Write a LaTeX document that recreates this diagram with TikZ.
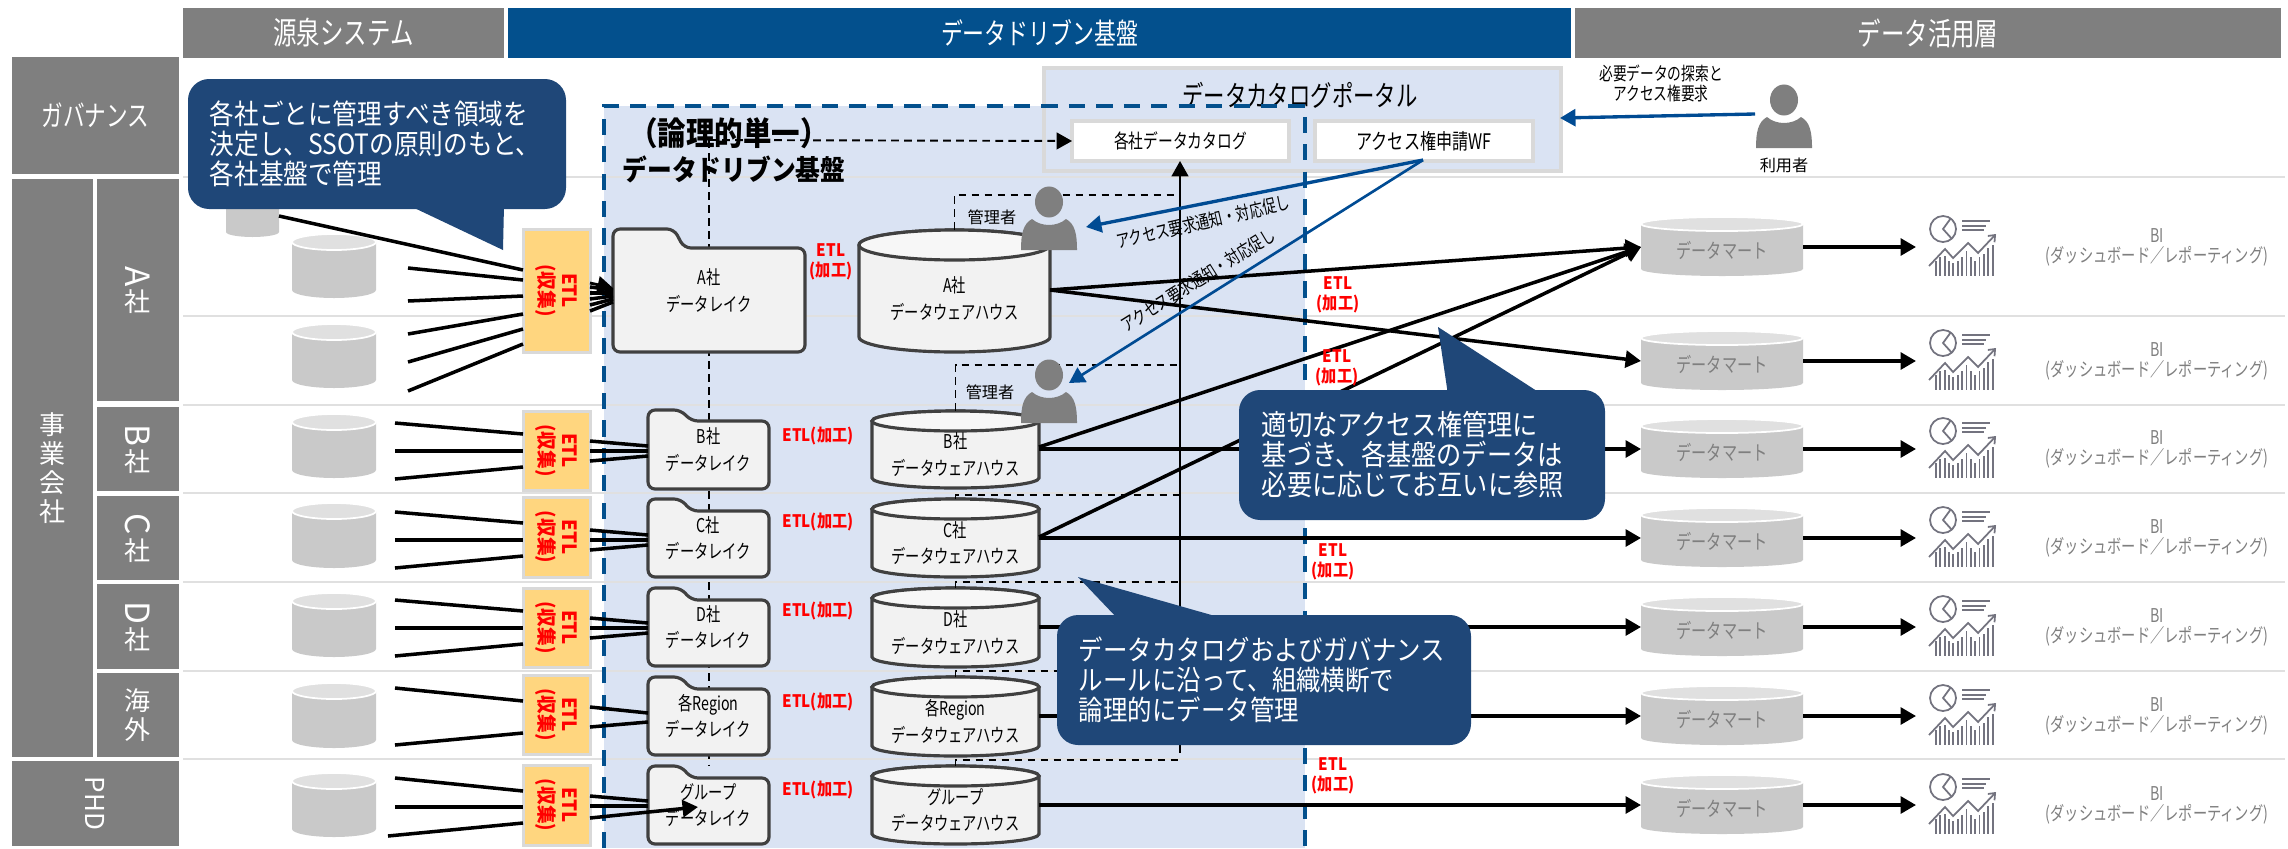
\documentclass[tikz,border=0pt]{standalone}
\usepackage{fontspec}
\setmainfont[FakeStretch=0.88]{Noto Sans CJK JP}
\newfontfamily\jpplain{Noto Sans CJK JP}
\newfontfamily\jpnarrow[FakeStretch=0.75]{Noto Sans CJK JP}
\newfontfamily\jpetl[FakeStretch=0.95]{Noto Sans CJK JP}
\usetikzlibrary{arrows.meta,positioning,shapes.geometric}
\newcommand{\fz}[2]{\fontsize{#1}{#2}\selectfont}
\definecolor{c_gray}{HTML}{7F7F7F}
\definecolor{c_blue}{HTML}{03508D}
\definecolor{c_note}{HTML}{1F4778}
\definecolor{c_zone}{HTML}{DAE3F3}
\definecolor{c_rule}{HTML}{E0E0E0}
\definecolor{c_frame}{HTML}{D9D9D9}
\definecolor{c_edge}{HTML}{404040}
\definecolor{c_flow}{HTML}{004B93}
\definecolor{c_icon}{HTML}{73737F}
\definecolor{c_etl}{HTML}{FFD67F}
\tikzset{
        boxnode/.style={inner sep=0pt,outer sep=0pt,align=center},
        % Header bars and side labels
        node_bar/.style={boxnode, fill=c_gray, text=white, font=\jpnarrow\fz{8.9}{10}},
        node_bar_blue/.style={node_bar, fill=c_blue, font=\jpnarrow\fz{8.3}{10}},
        node_side/.style={boxnode, fill=c_gray, text=white, font=\jpplain\fz{7.4}{8.2}},
        node_side_wide/.style={node_side, font=\jpnarrow\fz{8.2}{9}},
        % ETL boxes
        node_etl/.style={boxnode, fill=c_etl, draw=c_frame, line width=0.85pt},
        node_etl_text/.style={boxnode, rotate=-90, text=red, font=\jpetl\bfseries\fz{5.6}{6.6}},
        node_red/.style={boxnode, text=red, font=\bfseries\fz{4.9}{5.7}},
        % Portal
        node_portal/.style={boxnode, fill=c_zone, draw=c_frame, line width=0.95pt},
        node_white/.style={boxnode, fill=white, draw=c_frame, line width=0.95pt, font=\jpnarrow\fz{5.6}{6}},
        % Callouts
        node_note/.style={boxnode, align=left, fill=c_note, text=white, rounded corners=6pt, font=\fz{7.95}{8.5}},
        % Texts
        node_small/.style={boxnode, font=\jpnarrow\fz{5.4}{6}},
        node_bi/.style={boxnode, text=c_gray, font=\jpnarrow\fz{5.4}{5.7}},
        node_person/.style={boxnode, ellipse, fill=c_gray, minimum width=0.28cm, minimum height=0.31cm},
        node_hidden/.style={boxnode},
        % Cylinders
        wh_body/.style={draw=c_edge, fill=black!5, line width=0.9pt},
        wh_top/.style={draw=c_edge, fill=black!3, line width=0.9pt},
        wh_text/.style={node_small},
        src_body/.style={fill=black!21},
        src_top/.style={draw=white, fill=black!12, line width=0.5pt},
        src_text/.style={node_small, text=c_gray, font=\jpnarrow\fz{5.75}{6}},
        % Lines
        line_feed/.style={line width=1pt},
        line_flow/.style={line width=1pt, -{Triangle[length=4.4pt,width=4.8pt]}},
        line_blue/.style={draw=c_flow, -{Triangle[length=4.4pt,width=4.8pt]}},
        line_dash/.style={line width=0.55pt, dash pattern=on 2.2pt off 1.5pt},
        line_zone/.style={draw=c_blue, line width=1pt, dash pattern=on 4.6pt off 3.2pt},
        line_icon/.style={draw=c_icon, line width=0.5pt}
}
% box given by its corners, in pixels of the sheet
\newcommand{\placebox}[7]{%
    \pgfmathsetmacro{\bw}{(#5)-(#3)}\pgfmathsetmacro{\bh}{(#6)-(#4)}%
    \pgfmathsetmacro{\bx}{((#3)+(#5))/2}\pgfmathsetmacro{\by}{((#4)+(#6))/2}%
    \node[#1, minimum width=\bw*0.01cm, minimum height=\bh*0.01cm] (#2) at (\bx,\by) {#7};
}
% name, x1, y1, x2, y2, ry, kind, text
\newcommand{\dbcyl}[8]{%
    \pgfmathsetmacro{\crx}{((#4)-(#2))/2}\pgfmathsetmacro{\ccx}{((#2)+(#4))/2}%
    \pgfmathsetmacro{\cyt}{(#3)+(#6)}\pgfmathsetmacro{\cyb}{(#5)-(#6)}%
    \pgfmathsetmacro{\cym}{((#3)+(#5))/2+(#6)*0.5}%
    \path[#7_body] (#2,\cyt) -- (#2,\cyb)
        arc[start angle=180,end angle=360,x radius=\crx*0.01cm,y radius=#6*0.01cm]
        -- (#4,\cyt)
        arc[start angle=0,end angle=180,x radius=\crx*0.01cm,y radius=#6*0.01cm] -- cycle;
    \path[#7_top] (\ccx,\cyt) ellipse [x radius=\crx*0.01cm,y radius=#6*0.01cm];
    \placebox{node_hidden}{#1}{#2}{#3}{#4}{#5}{}
    \node[#7_text] (#1_text) at (\ccx,\cym) {#8};
}
% name, x1, y1, x2, y2, tab x, tab y, text
\newcommand{\lakefolder}[8]{%
    \draw[wh_body, line join=round, rounded corners=2pt] (#2,#5) -- (#2,#3) -- (#6-10,#3) -- (#6,#7) -- (#4,#7) -- (#4,#5) -- cycle;
    \placebox{node_small}{#1}{#2}{#3}{#4}{#5}{#8}
}
\newcommand{\personicon}[3]{%
    \begin{scope}[shift={(#2,#3)}]
        \node[node_person] (#1) at (0,0) {};
        \fill[c_gray] (-28,48) .. controls (-28,32) and (-26,22) .. (-17,17)
            .. controls (-8,25) and (8,25) .. (17,17)
            .. controls (26,22) and (28,32) .. (28,48) -- cycle;
    \end{scope}
}
\newcommand{\biicon}[1]{%
    \begin{scope}[shift={(0,#1)}]
        \draw[line_icon] (1943,-18) circle[radius=0.13cm];
        \draw[line_icon] (1951,-29) -- (1943,-18) -- (1952,-8);
        \foreach \ly/\lx in {-26/1990,-21/1986,-17/1984} \draw[line_icon,line width=0.6pt] (1962,\ly) -- (\lx,\ly);
        \draw[line_icon,-{Straight Barb[length=1.6pt,width=2.6pt]}] (1929,19) -- (1945,2) -- (1953,11) -- (1968,-4) -- (1978,6) -- (1996,-13);
        \foreach \i/\t in {0/14,1/10,2/9,3/14,4/16,5/14,6/10,7/4,8/10,9/14,10/10,11/7,12/1,13/-2}
            \draw[line_icon,line width=0.55pt] (1936+\i*4.35,\t) -- (1936+\i*4.35,29);
    \end{scope}
}
\newcommand{\sideletter}[1]{\rotatebox{-90}{\fz{9.5}{10}#1}}

\begin{document}
\begin{tikzpicture}[x=0.01cm,y=-0.01cm]
    \useasboundingbox (0,0) rectangle (2288,848);

    % logical zone
    \fill[c_zone] (604,106) rectangle (1305,848);
    \foreach \y in {177,316,405,493,582,671,759}
        \draw[c_rule,line width=0.6pt] (183,\y) -- (2285,\y);

    % headers
    \placebox{node_bar}{headSource}{183}{8}{504}{58}{源泉システム}
    \placebox{node_bar_blue}{headBase}{508}{8}{1571}{58}{データドリブン基盤}
    \placebox{node_bar}{headUse}{1575}{8}{2281}{58}{データ活用層}

    % side labels
    \placebox{node_side_wide}{sideGov}{12}{57}{179}{174}{ガバナンス}
    \placebox{node_side}{sideGroup}{12}{179}{93}{757}{事\\業\\会\\社}
    \placebox{node_side}{sideA}{97}{179}{179}{401}{\sideletter{A}\\社}
    \placebox{node_side}{sideB}{97}{407}{179}{491}{\sideletter{B}\\社}
    \placebox{node_side}{sideC}{97}{496}{179}{580}{\sideletter{C}\\社}
    \placebox{node_side}{sideD}{97}{584}{179}{669}{\sideletter{D}\\社}
    \placebox{node_side}{sideR}{97}{673}{179}{757}{海\\外}
    \placebox{node_side}{sidePHD}{12}{761}{179}{846}{\rotatebox{-90}{PHD}}

    % portal
    \placebox{node_portal}{portal}{1044}{68}{1561}{171}{}
    \node[boxnode,font=\jpnarrow\fz{8.1}{8}] (portalTitle) at (1300,95) {データカタログポータル};
    \placebox{node_white}{catalog}{1072}{121}{1289}{161}{各社データカタログ}
    \placebox{node_white,font=\jpnarrow\fz{6.1}{6}}{requestWF}{1315}{121}{1533}{161}{アクセス権申請WF}

    \draw[line_zone] (604,848) -- (604,106) -- (1305,106) -- (1305,848);

    % dashed catalog links
    \coordinate (busTop) at (709,140);
    \coordinate (busEnd) at (709,766);
    \draw[line_dash] (busTop) -- (busEnd);
    \draw[line_dash,-{Triangle[length=4.4pt,width=4.8pt]}] (busTop) -- (catalog.west);

    % source systems
    \dbcyl{srcA0}{226}{190}{279}{237}{5}{src}{}
    \foreach \r/\ya/\yb in {A1/234/298,A2/324/388,B/414/478,C/503/568,D/593/657,R/683/748,G/773/837}{
        \dbcyl{src\r}{292}{\ya}{376}{\yb}{8}{src}{}
    }

    % ETL collect
    \foreach \r/\ya/\yb in {A/229/352,B/411/490,C/497/577,D/588/667,R/675/754,G/765/845}{
        \placebox{node_etl}{etl\r}{523}{\ya}{590}{\yb}{}
        \node[node_etl_text] (etlText\r) at (etl\r.center) {ETL\\(収集)};
    }

    % data lakes
    \lakefolder{lakeA}{613}{229}{805}{352}{684}{248}{A社\\[1.5pt]データレイク}
    \lakefolder{lakeB}{648}{410}{769}{489}{691}{421}{B社\\[1.5pt]データレイク}
    \lakefolder{lakeC}{648}{499}{769}{577}{691}{511}{C社\\[1.5pt]データレイク}
    \lakefolder{lakeD}{648}{588}{769}{666}{691}{600}{D社\\[1.5pt]データレイク}
    \lakefolder{lakeR}{648}{677}{769}{755}{691}{689}{各Region\\[1.5pt]データレイク}
    \lakefolder{lakeG}{648}{766}{769}{844}{691}{778}{グループ\\[1.5pt]データレイク}

    % warehouses
    \dbcyl{whA}{859}{230}{1050}{352}{15}{wh}{A社\\[1.5pt]データウェアハウス}
    \dbcyl{whB}{872}{411}{1039}{488}{10}{wh}{B社\\[1.5pt]データウェアハウス}
    \dbcyl{whC}{872}{499}{1039}{577}{10}{wh}{C社\\[1.5pt]データウェアハウス}
    \dbcyl{whD}{872}{588}{1039}{667}{10}{wh}{D社\\[1.5pt]データウェアハウス}
    \dbcyl{whR}{872}{677}{1039}{756}{10}{wh}{各Region\\[1.5pt]データウェアハウス}
    \dbcyl{whG}{872}{766}{1039}{844}{10}{wh}{グループ\\[1.5pt]データウェアハウス}

    % marts and BI
    \foreach \r/\y in {1/247,2/361,3/449,4/538,5/627,6/716,7/805}{
        \dbcyl{mart\r}{1641}{\y-30}{1803}{\y+29}{7}{src}{データマート}
        \coordinate (icon\r) at (1916,\y);
        \draw[line_flow] (mart\r.east |- icon\r) -- (icon\r);
        \biicon{\y}
        \node[node_bi] (bi\r) at (2157,\y) {BI\\(ダッシュボード／レポーティング)};
    }

    % catalog bus
    \coordinate (busBottom) at (1180,753);
    \draw[line width=0.6pt,-{Triangle[length=4.4pt,width=4.8pt]}] (busBottom) -- (busBottom |- catalog.south);
    \foreach \r/\y in {A/195,B/365,C/495,D/582,R/671,G/760}
        \draw[line_dash] (wh\r.north) -- (wh\r.north |- 0,\y) -- (busBottom |- 0,\y);

    % source feeds
    \coordinate (outA) at (408,300);
    \draw[line_feed] (srcA0.east |- 0,216) -- (etlA.west |- 0,270);
    \foreach \a/\b in {268/280,301/296,334/314,362/329,391/344}
        \draw[line_feed] (outA |- 0,\a) -- (etlA.west |- 0,\b);
    \foreach \a/\b in {287/290,293/293,299/296,305/299,311/302}
        \draw[line_feed] (etlA.east |- 0,\a) -- (lakeA.west |- 0,\b);
    \draw[line_flow,line width=0.8pt] (etlA.east |- 0,283) -- (lakeA.west |- 0,288);
    \foreach \r/\c in {B/451,C/540,D/628}{
        \coordinate (out\r) at (395,\c);
        \foreach \da/\db/\dc/\dd in {-28/-17/-10/-5,0/0/0/0,28/16/10/5}{
            \draw[line_feed] (out\r |- 0,\c+\da) -- (etl\r.west |- 0,\c+\db);
            \draw[line_feed] (etl\r.east |- 0,\c+\dc) -- (lake\r.west |- 0,\c+\dd);
        }
    }
    \coordinate (outR) at (395,716);
    \draw[line_feed] (outR |- 0,688) -- (etlR.west |- 0,701);
    \draw[line_feed] (outR |- 0,745) -- (etlR.west |- 0,733);
    \draw[line_feed] (etlR.east |- 0,707) -- (lakeR.west |- 0,713);
    \draw[line_feed] (etlR.east |- 0,727) -- (lakeR.west |- 0,722);
    \coordinate (outG) at (395,807);
    \coordinate (lakeGTip) at (698,807);
    \draw[line_feed] (outG |- 0,778) -- (etlG.west |- 0,791);
    \draw[line_feed] (outG) -- (etlG.west |- outG);
    \draw[line_feed] (388,836) -- (etlG.west |- 0,823);
    \draw[line_feed] (etlG.east |- 0,796) -- (lakeG.west |- 0,801);
    \draw[line_feed] (etlG.east |- 0,806) -- (lakeG.west |- 0,806);
    \draw[line_flow] (etlG.east |- 0,818) -- (lakeGTip);

    % warehouse to mart
    \draw[line_flow] (whA.east |- 0,290) -- (mart1.west |- 0,247);
    \draw[line_flow] (whA.east |- 0,290) -- (mart2.west |- 0,361);
    \draw[line_flow] (whB.east |- 0,447) -- (mart1.west |- 0,247);
    \draw[line_flow] (whC.east |- 0,537) -- (mart1.west |- 0,247);
    \foreach \r/\m/\y in {B/3/449,C/4/538,D/5/627,R/6/716,G/7/805}
        \draw[line_flow] (wh\r.east |- 0,\y) -- (mart\m.west |- 0,\y);

    % users
    \personicon{user}{1784}{100}
    \personicon{adminA}{1049}{202}
    \personicon{adminB}{1049}{375}
    \node[node_small,font=\jpplain\fz{4.6}{6}] (userName) at (1784,165) {利用者};
    \node[node_small,font=\jpplain\fz{4.6}{6}] (adminAName) at (992,217) {管理者};
    \node[node_small,font=\jpplain\fz{4.6}{6}] (adminBName) at (990,392) {管理者};
    \node[node_small,font=\jpnarrow\fz{5.2}{5.7}] (userNote) at (1661,83) {必要データの探索と\\アクセス権要求};

    % access request
    \coordinate (wfOut) at (1423,160);
    \coordinate (adminATip) at (1086,227);
    \coordinate (adminBTip) at (1069,383);
    \coordinate (userOut) at (1755,114);
    \coordinate (portalIn) at (1560,118);
    \draw[line_blue,line width=0.95pt] (wfOut) -- (adminATip);
    \draw[line_blue,line width=0.75pt] (wfOut) -- (adminBTip);
    \draw[line_blue,line width=0.95pt] (userOut) -- (portalIn);
    \node[node_small,rotate=13,font=\jpnarrow\fz{5.2}{5}] (noticeA) at (1203,222) {アクセス要求通知・対応促し};
    \node[node_small,rotate=32,font=\jpnarrow\fz{5.2}{5}] (noticeB) at (1198,280) {アクセス要求通知・対応促し};

    % red labels
    \foreach \n/\x/\y in {redA/831/262,redB/1338/295,redC/1337/368,redD/1333/562,redE/1333/776}
        \node[node_red] (\n) at (\x,\y) {ETL\\(加工)};
    \foreach \r/\y in {B/436,C/522,D/611,R/702,G/790}
        \node[node_red] (redLake\r) at (818,\y) {ETL(加工)};

    % title
    \node[boxnode,font=\bfseries\fz{8}{10}] (zoneTitle) at (734,150) {{\fz{9.2}{10}（論理的単一）}\hspace{0.1cm}\mbox{}\\データドリブン基盤};

    % callouts
    \fill[c_note] (408,205) -- (503,250) -- (504,205) -- cycle;
    \placebox{node_note, text width=3.34cm}{noteSSOT}{188}{79}{566}{209}{各社ごとに管理すべき領域を\\決定し、SSOTの原則のもと、\\各社基盤で管理}
    \fill[c_note] (1448,395) -- (1438,327) -- (1543,395) -- cycle;
    \placebox{node_note, text width=3.2cm, font=\fz{8.15}{8.5}}{noteAccess}{1239}{390}{1605}{520}{適切なアクセス権管理に\\基づき、各基盤のデータは\\必要に応じてお互いに参照}
    \fill[c_note] (1119,620) -- (1078,577) -- (1229,620) -- cycle;
    \placebox{node_note, text width=3.7cm, font=\fz{7.9}{8.5}}{noteCatalog}{1057}{615}{1471}{745}{データカタログおよびガバナンス\\ルールに沿って、組織横断で\\論理的にデータ管理}
\end{tikzpicture}
\end{document}
